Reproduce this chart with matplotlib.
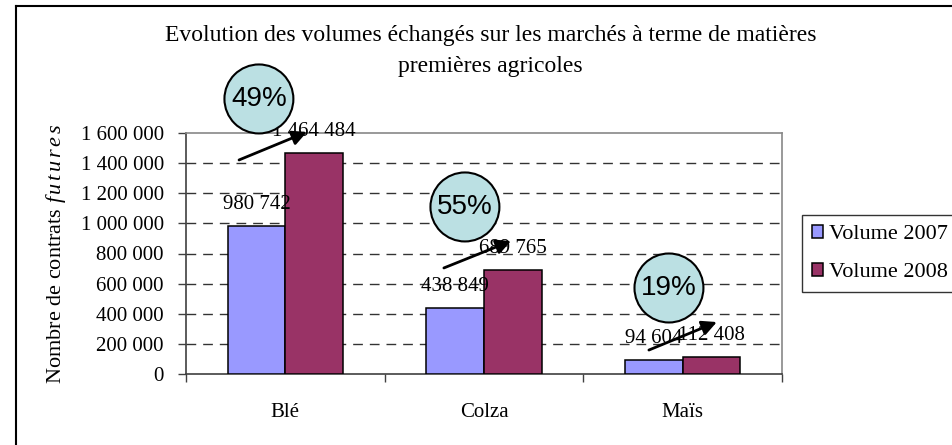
import matplotlib
matplotlib.use("Agg")
import matplotlib.pyplot as plt
from matplotlib.patches import Ellipse
from matplotlib.lines import Line2D
from matplotlib.ticker import FuncFormatter, FixedLocator

# ---------------- data ----------------
categories = ["Blé", "Colza", "Maïs"]
vol_2007 = [980742, 438849, 94604]
vol_2008 = [1464484, 689765, 112408]
series_names = ["Volume 2007", "Volume 2008"]
pct_labels = ["49%", "55%", "19%"]
title = "Evolution des volumes échangés sur les marchés à terme de matières\npremières agricoles"

# ---------------- style ----------------
plt.rcParams["font.family"] = ["Liberation Serif", "DejaVu Serif"]
plt.rcParams["mathtext.fontset"] = "custom"
plt.rcParams["mathtext.rm"] = "Liberation Serif"
plt.rcParams["mathtext.it"] = "Liberation Serif:italic"

W, H = 953, 445
fig = plt.figure(figsize=(W / 100, H / 100), dpi=100)
ax = fig.add_axes([186 / W, (H - 374) / H, 596 / W, 241 / H])

c07, c08 = "#9999FF", "#993366"
bw = 0.29
x = list(range(len(categories)))
b1 = ax.bar([i - bw / 2 for i in x], vol_2007, width=bw, color=c07, edgecolor="black", linewidth=1.1, zorder=3, label=series_names[0])
b2 = ax.bar([i + bw / 2 for i in x], vol_2008, width=bw, color=c08, edgecolor="black", linewidth=1.1, zorder=3, label=series_names[1])

ax.set_xlim(-0.5, 2.5)
ax.set_ylim(0, 1600000)
ax.yaxis.set_major_locator(FixedLocator(list(range(0, 1600001, 200000))))
ax.yaxis.set_major_formatter(FuncFormatter(lambda v, p: f"{int(v):,}".replace(",", " ")))
ax.set_xticks(x)
ax.set_xticklabels(categories)
ax.set_xticks([-0.5, 0.5, 1.5, 2.5], minor=True)
ax.tick_params(axis="x", which="major", length=0, pad=21, labelsize=15)
ax.tick_params(axis="x", which="minor", length=6, width=1, color="#404040")
ax.tick_params(axis="y", length=6, width=1, color="#404040", pad=10, labelsize=15)

for y in range(200000, 1600000, 200000):
    ax.axhline(y, color="#333333", lw=1.0, dashes=(7, 5), zorder=1)

for s in ["top", "right"]:
    ax.spines[s].set_color("#888888")
    ax.spines[s].set_linewidth(1.2)
for s in ["left", "bottom"]:
    ax.spines[s].set_color("#404040")
    ax.spines[s].set_linewidth(1.2)

ax.set_ylabel("Nombre de contrats $\\it{f\\,u\\,t\\,u\\,r\\,e\\,s}$", fontsize=16, labelpad=9)

# data labels
for bars, vals in ((b1, vol_2007), (b2, vol_2008)):
    for r, v in zip(bars, vals):
        ax.annotate(f"{v:,}".replace(",", " "), (r.get_x() + r.get_width() / 2, v),
                    xytext=(0, 15.5), textcoords="offset points", ha="center", va="center",
                    fontsize=15, annotation_clip=False, zorder=6)

# percentage circles and arrows (annotation layout, data coords)
circle_xy = [(-0.133, 1826000), (0.904, 1109000), (1.931, 571000)]
arrow_from = [(-0.233, 1421000), (0.798, 704000), (1.830, 159000)]
arrow_to = [(0.109, 1607000), (1.136, 883000), (2.172, 345000)]
ew, eh = 0.347, 458000
for lab, cxy, a0, a1 in zip(pct_labels, circle_xy, arrow_from, arrow_to):
    ax.annotate("", xy=a1, xytext=a0, annotation_clip=False, zorder=7,
                arrowprops=dict(arrowstyle="-|>", color="black", lw=2, mutation_scale=22, shrinkA=0, shrinkB=0))
    e = Ellipse(cxy, ew, eh, facecolor="#BBE0E3", edgecolor="black", lw=1.5, zorder=8, clip_on=False)
    ax.add_patch(e)
    ax.text(cxy[0], cxy[1], lab, ha="center", va="center", fontsize=20,
            family="Liberation Sans", zorder=9)

fig.text(0.515, 1 - 51 / H, title, ha="center", va="center", fontsize=17, linespacing=1.6)

leg = fig.legend(handles=[b1, b2], loc="upper left", bbox_to_anchor=(802 / W, 1 - 215 / H),
                 fontsize=16, frameon=True, fancybox=False, edgecolor="black",
                 handlelength=0.5, handleheight=0.5, handletextpad=0.25, labelspacing=0.85,
                 borderpad=0.45, borderaxespad=0)
leg.get_frame().set_linewidth(1.0)

# outer chart border
fig.add_artist(Line2D([16 / W, 16 / W], [0, 1 - 6 / H], color="black", lw=1.5, transform=fig.transFigure))
fig.add_artist(Line2D([16 / W, 1], [1 - 6 / H, 1 - 6 / H], color="black", lw=1.5, transform=fig.transFigure))

fig.savefig("out.png", dpi=100)
